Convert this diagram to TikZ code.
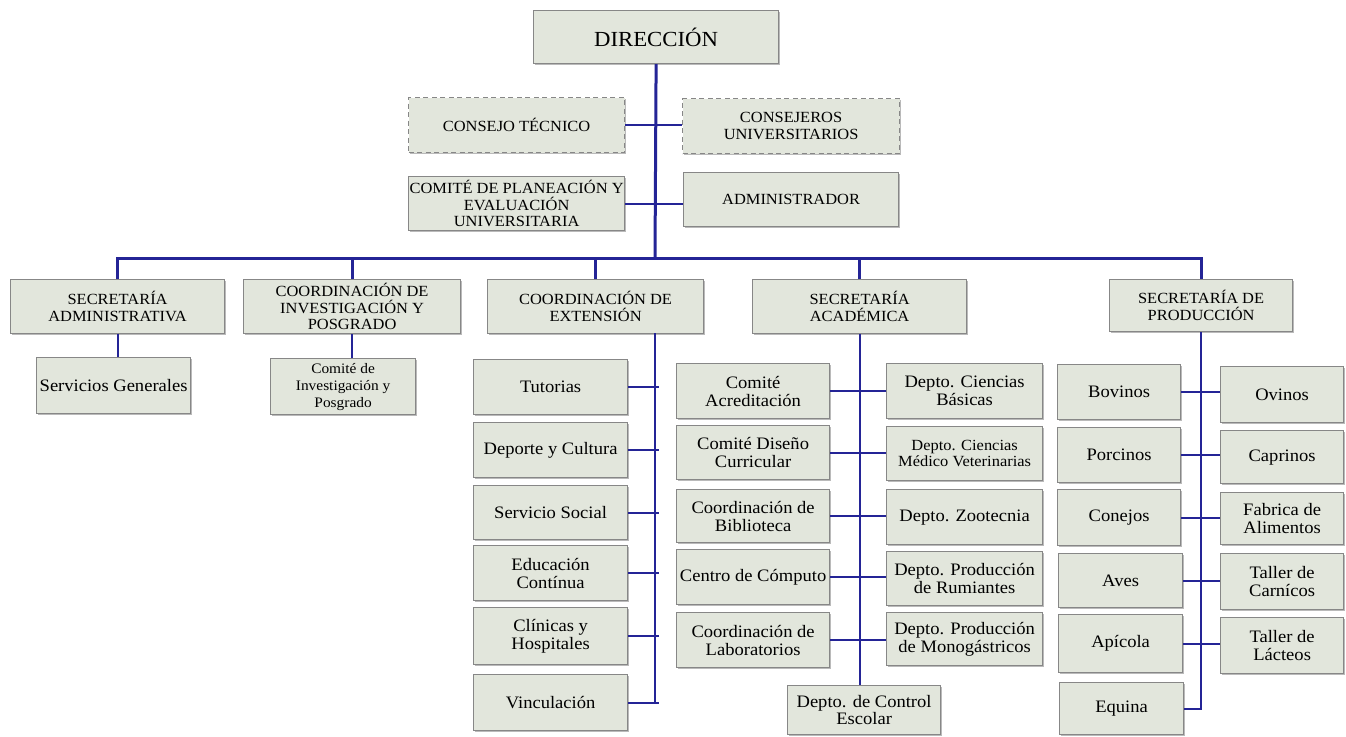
\documentclass[tikz,border=0pt]{standalone}
\usepackage{fontspec}
\setmainfont{Liberation Serif}[FakeStretch=1.06]
\usetikzlibrary{shadows,calc}
\definecolor{boxfill}{RGB}{226,230,220}
\definecolor{boxdraw}{RGB}{135,135,135}
\definecolor{navy}{RGB}{36,36,150}
\tikzset{
  box/.style={draw=boxdraw, line width=1.2pt, fill=boxfill, align=center, inner sep=1pt,
    drop shadow={shadow xshift=1.3pt, shadow yshift=-1.3pt, fill=black!45, opacity=0.6},
    font=\fontsize{17.5}{17.8}\selectfont},
  dashbox/.style={draw=boxdraw, line width=1.2pt, fill=boxfill, align=center, inner sep=1pt,
    dash pattern=on 5pt off 3.5pt, font=\fontsize{15.5}{16.5}\selectfont},
  capsfont/.style={font=\fontsize{15.5}{16.5}\selectfont},
  smallfont/.style={font=\fontsize{14.5}{17}\selectfont},
  mvfont/.style={font=\fontsize{15.5}{16}\selectfont},
  bigfont/.style={font=\fontsize{21.5}{24}\selectfont},
  bus/.style={draw=navy, line width=3pt},
  conn/.style={draw=navy, line width=1.8pt},
}
\newcommand\bx[7][]{\node[box,#1,anchor=north west,minimum width={(#5-#3)*1pt},minimum height={(#6-#4)*1pt}] (#2) at (#3,#4) {#7};}
\begin{document}
\begin{tikzpicture}[x=1pt,y=-1pt]
\fill[white] (0,0) rectangle (1346,736);
\useasboundingbox (0,0) rectangle (1346,736);

% top block
\bx[bigfont]{dir}{533}{10}{778}{63}{DIRECCIÓN}
\bx[dashbox,drop shadow={opacity=0}]{ct}{408}{97}{624}{152}{CONSEJO TÉCNICO}
\bx[dashbox,drop shadow={opacity=0}]{cu}{682}{98}{899}{153}{CONSEJEROS\\UNIVERSITARIOS}
\bx[capsfont]{cp}{408}{176}{624}{230}{COMITÉ DE PLANEACIÓN Y\\EVALUACIÓN\\UNIVERSITARIA}
\bx[capsfont]{ad}{683}{172}{898}{226}{ADMINISTRADOR}

% second level
\bx[capsfont]{sa}{10}{279}{224}{333}{SECRETARÍA\\ADMINISTRATIVA}
\bx[capsfont]{ci}{243}{279}{460}{333}{COORDINACIÓN DE\\INVESTIGACIÓN Y\\POSGRADO}
\bx[capsfont]{ext}{487}{279}{703}{333}{COORDINACIÓN DE\\EXTENSIÓN}
\bx[capsfont]{acad}{752}{279}{966}{333}{SECRETARÍA\\ACADÉMICA}
\bx[capsfont]{sp}{1109}{279}{1292}{331}{SECRETARÍA DE\\PRODUCCIÓN}

% children
\bx{sg}{36}{357}{190}{413}{Servicios Generales}
\bx[smallfont]{cig}{270}{358}{415}{414}{Comité de\\Investigación y\\Posgrado}

\bx{tut}{473}{359}{627}{414}{Tutorias}
\bx{dep}{473}{422}{627}{477}{Deporte y Cultura}
\bx{ss}{473}{485}{627}{539}{Servicio Social}
\bx{ec}{473}{545}{627}{600}{Educación\\Contínua}
\bx{ch}{473}{607}{627}{664}{Clínicas y\\Hospitales}
\bx{vin}{473}{674}{627}{730}{Vinculación}

\bx{ca}{676}{363}{829}{418}{Comité\\Acreditación}
\bx{cdc}{676}{425}{829}{479}{Comité Diseño\\Curricular}
\bx{cbib}{676}{489}{829}{542}{Coordinación de\\Biblioteca}
\bx{cc}{676}{549}{829}{604}{Centro de Cómputo}
\bx{cl}{676}{612}{829}{667}{Coordinación de\\Laboratorios}

\bx{dcb}{886}{363}{1042}{418}{Depto. Ciencias\\Básicas}
\bx[mvfont]{dcmv}{886}{426}{1042}{480}{Depto. Ciencias\\Médico Veterinarias}
\bx{dz}{886}{489}{1042}{544}{Depto. Zootecnia}
\bx{dpr}{886}{551}{1042}{605}{Depto. Producción\\de Rumiantes}
\bx{dpm}{886}{612}{1042}{665}{Depto. Producción\\de Monogástricos}
\bx{ce}{787}{685}{940}{734}{Depto. de Control\\Escolar}

\bx{bov}{1057}{364}{1180}{419}{Bovinos}
\bx{por}{1057}{427}{1180}{482}{Porcinos}
\bx{con}{1057}{489}{1180}{545}{Conejos}
\bx{ave}{1058}{553}{1182}{607}{Aves}
\bx{api}{1058}{614}{1182}{672}{Apícola}
\bx{eq}{1059}{682}{1183}{734}{Equina}

\bx{ov}{1220}{366}{1343}{422}{Ovinos}
\bx{cap}{1220}{430}{1343}{483}{Caprinos}
\bx{fab}{1220}{492}{1343}{544}{Fabrica de\\Alimentos}
\bx{tc}{1220}{553}{1343}{609}{Taller de\\Carnícos}
\bx{tl}{1220}{617}{1343}{673}{Taller de\\Lácteos}

% connectors: top
\coordinate (busc) at (655,258);
\draw[bus] (dir.south) -- (busc);
\draw[conn] (ct.east) -- (ct.east -| cu.west);
\draw[conn] (cp.east) -- (cp.east -| ad.west);
\draw[bus] (sa.north) |- (busc) -| (sp.north);
\draw[bus] (ci.north) -- (ci.north |- busc);
\draw[bus] (ext.north) -- (ext.north |- busc);
\draw[bus] (acad.north) -- (acad.north |- busc);

% admin & investigation
\draw[conn] (sa.south) -- (sa.south |- sg.north);
\draw[conn] (ci.south) -- (ci.south |- cig.north);

% extension
\coordinate (extT) at (655,333);
\draw[conn] (extT) -- (655,702);
\foreach \n in {tut,dep,ss,ec,ch,vin}
  \draw[conn] (\n.east) -- ($(\n.east -| extT)+(4,0)$);

% academic
\draw[conn] (acad.south) -- (acad.south |- ce.north);
\draw[conn] (ca.east) -- (ca.east -| dcb.west);
\draw[conn] (cdc.east) -- (cdc.east -| dcmv.west);
\draw[conn] (cbib.east) -- (cbib.east -| dz.west);
\draw[conn] (cc.east) -- (cc.east -| dpr.west);
\draw[conn] (cl.east) -- (cl.east -| dpm.west);

% production
\draw[conn] (eq.east) -| (sp.south);
\draw[conn] (bov.east) -- (bov.east -| ov.west);
\draw[conn] (por.east) -- (por.east -| cap.west);
\draw[conn] (con.east) -- (con.east -| fab.west);
\draw[conn] (ave.east) -- (ave.east -| tc.west);
\draw[conn] (api.east) -- (api.east -| tl.west);
\end{tikzpicture}
\end{document}
